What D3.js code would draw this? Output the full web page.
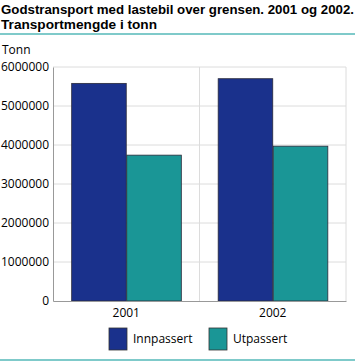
<!DOCTYPE html>
<html><head><meta charset="utf-8">
<script src="https://cdn.jsdelivr.net/npm/d3@7"></script>
<style>body{margin:0;background:#fff}svg{display:block;font-family:"Open Sans",sans-serif}</style>
</head><body><svg id="c" width="360" height="362"></svg>
<script>
const categories = ["2001", "2002"];
const seriesNames = ["Innpassert", "Utpassert"];
const innpassert = [5580000, 5700000];
const utpassert = [3740000, 3970000];
const yTicks = [0, 1000000, 2000000, 3000000, 4000000, 5000000, 6000000];
const colors = ["#1a318c", "#1a9696"];

const svg = d3.select("#c");
const m = {l: 53, r: 346, t: 67, b: 301};
const x = d3.scaleBand().domain(categories).range([m.l, m.r]).paddingInner(0).paddingOuter(0);
const x1 = d3.scaleBand().domain(seriesNames).range([0, x.bandwidth()]).paddingInner(0).paddingOuter(0.33);
const y = d3.scaleLinear().domain([0, 6000000]).range([m.b, m.t]);

// title
const tf = "'Liberation Sans', Arial, sans-serif";
svg.append("text").attr("x", 1).attr("y", 14).attr("font-weight", "bold").attr("font-size", 12.4).attr("font-family", tf)
  .attr("textLength", 353).attr("lengthAdjust", "spacingAndGlyphs")
  .attr("fill", "#000").text("Godstransport med lastebil over grensen. 2001 og 2002.");
svg.append("text").attr("x", 1).attr("y", 28.5).attr("font-weight", "bold").attr("font-size", 12.4).attr("font-family", tf)
  .attr("textLength", 156).attr("lengthAdjust", "spacingAndGlyphs")
  .attr("fill", "#000").text("Transportmengde i tonn");
svg.append("rect").attr("x", 0).attr("y", 33).attr("width", 355).attr("height", 2).attr("fill", "#7fcaca");
svg.append("rect").attr("x", 0).attr("y", 359).attr("width", 355).attr("height", 2).attr("fill", "#7fcaca");

svg.append("text").attr("x", 2).attr("y", 54).attr("font-size", 12).text("Tonn");

// grid
svg.append("g").selectAll("line").data(yTicks.filter(d => d > 0)).join("line")
  .attr("x1", m.l).attr("x2", m.r).attr("y1", d => y(d)).attr("y2", d => y(d))
  .attr("stroke", "#dcdcdc").attr("stroke-width", 1);
svg.append("g").selectAll("line").data(categories.slice(1)).join("line")
  .attr("x1", d => x(d)).attr("x2", d => x(d)).attr("y1", m.t).attr("y2", m.b)
  .attr("stroke", "#dcdcdc");
svg.append("line").attr("x1", m.r).attr("x2", m.r).attr("y1", m.t).attr("y2", m.b).attr("stroke", "#dcdcdc");

// y axis
const ya = d3.axisLeft(y).tickValues(yTicks).tickSize(0).tickPadding(4).tickFormat(d3.format("d"));
const yg = svg.append("g").attr("transform", `translate(${m.l},0)`).call(ya);
yg.select(".domain").attr("stroke", "#999");
yg.selectAll("text").attr("font-size", 12).attr("fill", "#000").attr("font-family", "Open Sans, sans-serif");

// bars
const data = categories.map((c, i) => ({c, vals: [innpassert[i], utpassert[i]]}));
const groups = svg.append("g").selectAll("g").data(data).join("g").attr("transform", d => `translate(${x(d.c)},0)`);
groups.selectAll("rect").data(d => d.vals.map((v, j) => ({s: seriesNames[j], v, j}))).join("rect")
  .attr("x", d => x1(d.s) + 0.5).attr("width", x1.bandwidth() - 0.5)
  .attr("y", d => y(d.v)).attr("height", d => m.b - y(d.v))
  .attr("fill", d => colors[d.j]).attr("stroke", "#2a2a3a").attr("stroke-width", 0.8);

// x axis
const xa = d3.axisBottom(x).tickSize(0).tickPadding(7);
const xg = svg.append("g").attr("transform", `translate(0,${m.b})`).call(xa);
xg.select(".domain").attr("stroke", "#999");
xg.selectAll("text").attr("font-size", 12).attr("fill", "#000").attr("font-family", "Open Sans, sans-serif");

// legend
const legX = [109, 209];
const lg = svg.append("g").selectAll("g").data(seriesNames).join("g").attr("transform", (d, i) => `translate(${legX[i]},328)`);
lg.append("rect").attr("width", 18).attr("height", 22).attr("fill", (d, i) => colors[i]).attr("stroke", "#333").attr("stroke-width", 0.8);
lg.append("text").attr("x", 24).attr("y", 15).attr("font-size", 12).text(d => d);
</script></body></html>
